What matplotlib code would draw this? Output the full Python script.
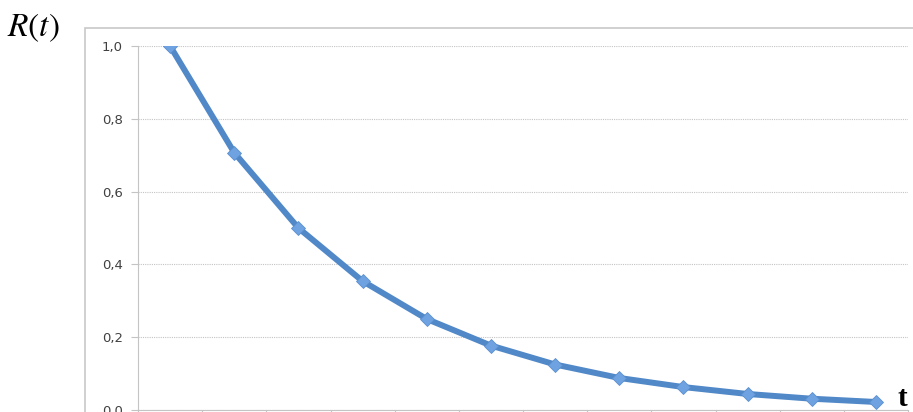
import matplotlib.pyplot as plt
from matplotlib.patches import Rectangle

# Data
t_index = list(range(1, 13))
r_values = [1.0, 0.707, 0.5, 0.354, 0.25, 0.177, 0.125, 0.088, 0.063, 0.044, 0.031, 0.022]
y_ticks = [0.0, 0.2, 0.4, 0.6, 0.8, 1.0]
y_tick_labels = ["0,0", "0,2", "0,4", "0,6", "0,8", "1,0"]

fig = plt.figure(figsize=(9.13, 4.12), dpi=100)

# light outer frame of the chart area
frame = Rectangle((85 / 913, -0.1), 1.0, (412 - 28) / 412 + 0.1,
                  transform=fig.transFigure, fill=False,
                  edgecolor="#c8c8c8", linewidth=1.2)
fig.patches.append(frame)

ax = fig.add_axes([138 / 913, 2 / 412, 770 / 913, 364 / 412])

ax.plot(t_index, r_values, color="#5088c8", linewidth=4.3,
        solid_joinstyle="round", solid_capstyle="round", zorder=3)
ax.plot(t_index, r_values, linestyle="none", marker="D", markersize=7.5,
        markerfacecolor="#6fa2e0", markeredgecolor="#5a90d0",
        markeredgewidth=0.6, zorder=4)

ax.set_xlim(0.5, 12.5)
ax.set_ylim(0, 1.0)
ax.set_yticks(y_ticks)
ax.set_yticklabels(y_tick_labels, fontsize=9.5, color="#404040")
ax.set_xticks([i + 0.5 for i in range(0, 13)])
ax.set_xticklabels([])

ax.yaxis.grid(True, linestyle=(0, (1, 1)), color="#c4c4c4", linewidth=0.8)
ax.set_axisbelow(True)

for side in ["top", "right"]:
    ax.spines[side].set_visible(False)
ax.spines["left"].set_color("#c4c4c4")
ax.spines["bottom"].set_color("#c4c4c4")
ax.tick_params(axis="y", length=5, color="#c4c4c4", pad=6)
ax.tick_params(axis="x", length=4, color="#c4c4c4")

# axis labels
fig.text(7 / 913, 1 - 28 / 412, "$R(t)$", fontsize=24, va="center",
         ha="left", math_fontfamily="stix")
fig.text(897 / 913, 1 - 398 / 412, "t", fontsize=21, fontweight="bold",
         family="Liberation Serif", va="center", ha="left")

plt.savefig("out.png", dpi=100)
